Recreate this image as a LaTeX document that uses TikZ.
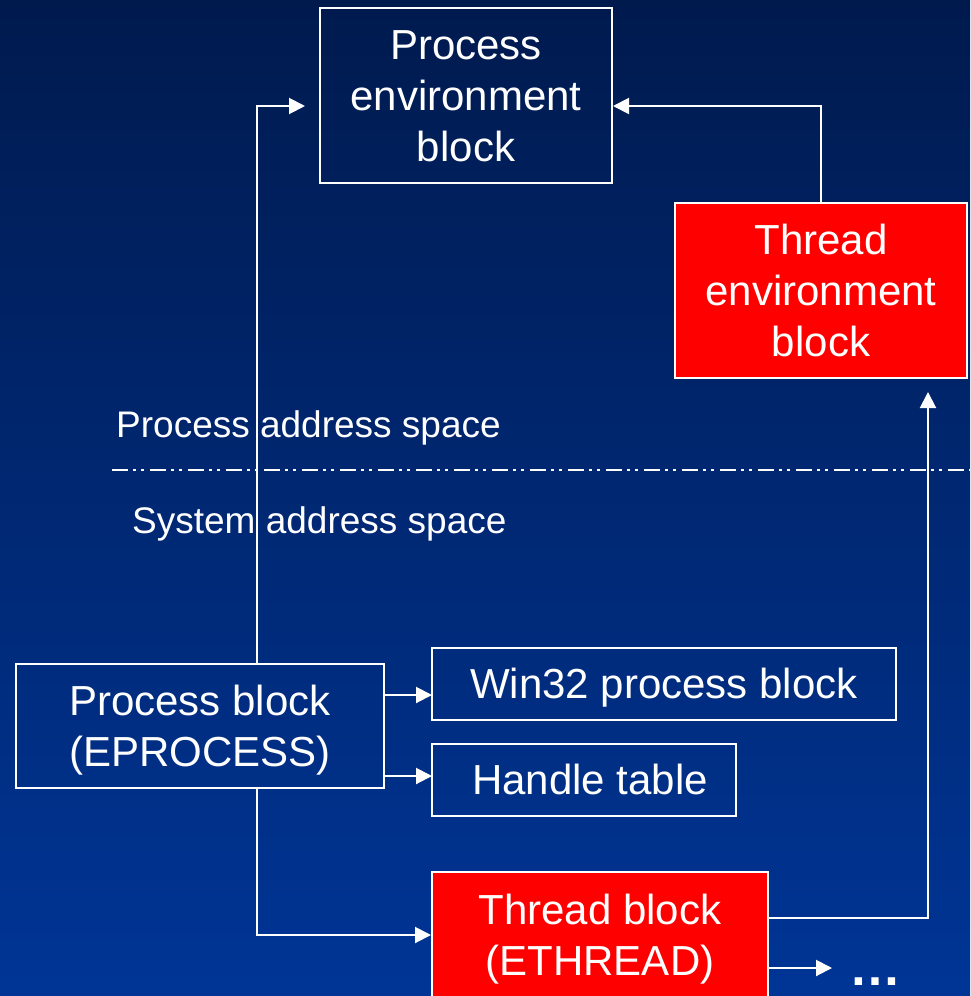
\documentclass[tikz,border=0pt]{standalone}
\usepackage{fontspec}
\setmainfont{Liberation Sans}
\usetikzlibrary{arrows.meta}
\definecolor{bgtop}{RGB}{0,26,78}
\definecolor{bgbottom}{RGB}{0,53,150}
\definecolor{hotred}{RGB}{255,0,0}
% strut with the font's full ascent and descent, so lines centre like the font box
\newcommand\linestrut{\rule[-0.212em]{0pt}{1.117em}}

\begin{document}
\begin{tikzpicture}[x=1pt,y=-1pt,
  blockbox/.style={draw=white, line width=2pt, text=white, align=center,
    inner sep=0pt, font=\fontsize{42}{51}\selectfont},
  redbox/.style={blockbox, fill=hotred},
  spacelabel/.style={text=white, inner sep=0pt, anchor=base west,
    font=\fontsize{37}{44}\selectfont},
  link/.style={draw=white, line width=2pt, -{Triangle[length=16pt,width=16pt]}},
  divider/.style={draw=white, line width=2pt,
    dash pattern=on 16pt off 5pt on 3pt off 5pt on 3pt off 6pt}
]
% canvas and background gradient
\useasboundingbox (0,0) rectangle (970,996);
\fill[top color=bgtop, bottom color=bgbottom] (0,0) rectangle (970,996);

% user-mode blocks
\node[blockbox, minimum width=292pt, minimum height=175pt] (peb) at (466,95.5)
  {\linestrut Process\\\linestrut environment\\\linestrut block};
\node[redbox, minimum width=292pt, minimum height=175pt] (teb) at (821,290.5)
  {\linestrut Thread\\\linestrut environment\\\linestrut block};

% address space boundary
\node[spacelabel] (pas) at (116,437) {Process address space};
\draw[divider] (112,470) -- (970,470);
\node[spacelabel] (sas) at (132,533) {System address space};

% kernel-mode blocks
\node[blockbox, minimum width=368pt, minimum height=124pt] (pblock) at (200,726)
  {\linestrut Process block\\\linestrut (EPROCESS)};
\node[blockbox, minimum width=464pt, minimum height=72pt] (win) at (664,684)
  {\linestrut Win32 process block};
\node[blockbox, minimum width=304pt, minimum height=72pt] (htab) at (584,780)
  {\linestrut\hspace{12pt}Handle table};
\node[redbox, minimum width=336pt, minimum height=126pt] (tblock) at (600,935)
  {\linestrut Thread block\\\linestrut (ETHREAD)};
\node[text=white, inner sep=0pt, anchor=base, font=\fontsize{52}{52}\selectfont\bfseries]
  (more) at (875,985) {…};

% connector end points
\coordinate (bend) at (257,106);
\coordinate (pebin) at (305,106);
\coordinate (tebin) at (928,392);
\coordinate (wina) at (432,695);
\coordinate (hta) at (432,776);
\coordinate (morein) at (832,968);

% connectors
\draw[link] (pblock.north -| bend) -- (bend) -- (pebin);
\draw[link] (teb.north) |- (peb.east |- bend);
\draw[link] (pblock.east |- wina) -- (wina);
\draw[link] (pblock.east |- hta) -- (hta);
\draw[link] (pblock.south -| bend) |- (tblock.west);
\draw[link] ([yshift=17pt]tblock.east) -| (tebin);
\draw[link] ([yshift=-33pt]tblock.east) -- (morein);
\end{tikzpicture}
\end{document}
